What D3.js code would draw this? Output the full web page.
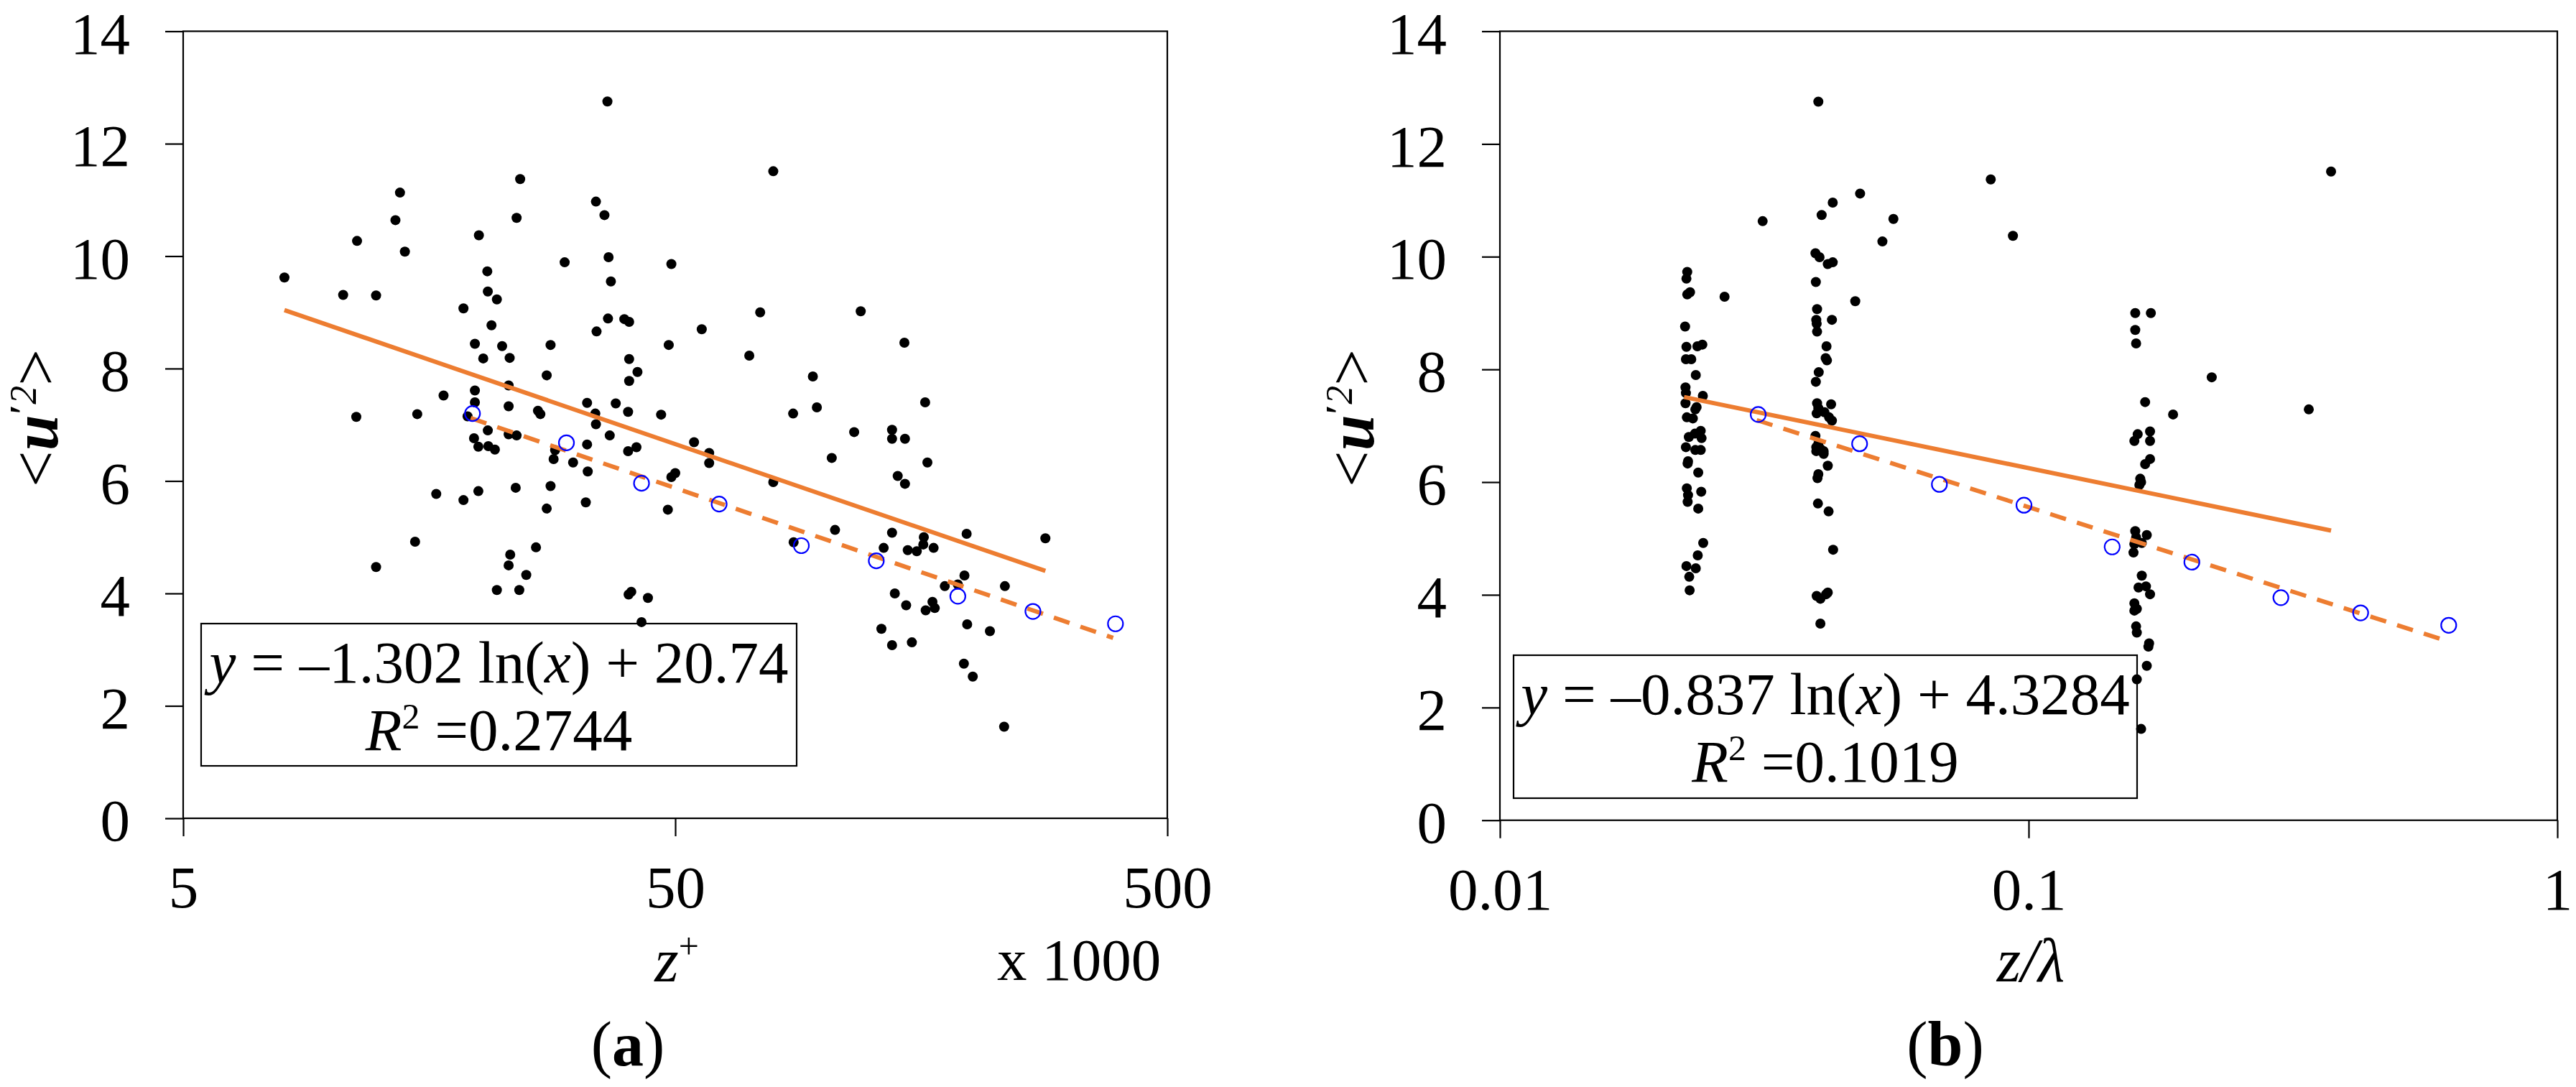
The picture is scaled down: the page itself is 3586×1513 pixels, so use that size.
<!DOCTYPE html>
<html>
<head>
<meta charset="utf-8">
<script src="https://cdn.jsdelivr.net/npm/d3@7"></script>
<style>
  body { margin: 0; background: #fff; }
  text { white-space: pre; }
</style>
</head>
<body>
<svg id="chart"></svg>
<script>
const width = 3586;
const height = 1513;
const serif = "'Liberation Serif', 'Times New Roman', serif";
const orange = "#ED7D31";
const blue = "#0000FF";

// ---- data -------------------------------------------------------------
const yTicks = [0, 2, 4, 6, 8, 10, 12, 14];
const xTicksA = [5, 50, 500];
const xLabelsA = ["5", "50", "500"];
const xTicksB = [0.01, 0.1, 1];
const xLabelsB = ["0.01", "0.1", "1"];

// (a) <u'^2> against z+ (x 1000)
const scatterA = [
  [8.03,9.62],[10.57,9.31],[11.28,10.27],[12.33,9.30],[11.24,7.14],[12.33,4.47],[13.5,10.64],[13.79,11.13],
  [14.11,10.08],[14.95,7.19],[14.8,4.92],[16.34,5.77],[16.91,7.52],[18.56,9.07],[18.56,5.66],[18.92,7.15],
  [19.58,8.44],[19.58,7.61],[19.58,7.40],[19.95,10.37],[19.5,6.76],[19.9,6.61],[19.9,5.82],[20.36,8.18],
  [20.75,9.73],[20.8,9.37],[21.16,8.77],[20.8,6.90],[20.85,6.62],[21.5,6.56],[21.7,9.23],[21.7,4.06],
  [22.24,8.40],[22.93,7.70],[22.93,7.33],[22.93,6.83],[23.04,8.19],[22.93,4.50],[23.1,4.69],[23.8,10.68],
  [24.2,11.37],[23.8,6.81],[23.7,5.88],[24.1,4.06],[24.9,4.33],[26.06,4.82],[26.3,7.25],[26.6,7.19],
  [27.4,7.88],[27.9,8.42],[27.9,5.91],[27.4,5.51],[28.3,6.39],[28.5,6.55],[29.8,9.89],[31.0,6.33],
  [33.1,7.39],[33.1,6.65],[33.2,6.17],[32.9,5.62],[34.5,10.97],[35.9,10.73],[34.6,8.66],[34.4,7.20],
  [34.5,7.01],[36.4,12.75],[36.6,9.98],[37.0,9.55],[36.8,6.81],[36.5,8.89],[37.85,7.38],[39.4,8.88],
  [40.1,7.23],[40.3,8.83],[40.3,8.17],[40.3,7.78],[40.1,6.53],[40.2,3.98],[40.7,4.03],[41.7,6.60],
  [41.9,7.94],[42.7,3.49],[44.0,3.92],[46.8,7.18],[48.5,8.42],[48.3,5.49],[49.1,9.86],[49.1,6.07],
  [50,6.14],[54.6,6.69],[56.6,8.70],[58.6,6.50],[58.6,6.32],[70.7,8.23],[74.4,9.00],[79.1,11.51],
  [79.1,5.98],[86.8,7.20],[87.0,4.91],[95.2,7.86],[97.0,7.31],[104,6.41],[105.6,5.13],[115.5,6.87],
  [119.1,9.02],[131.2,3.37],[132.6,4.81],[137.9,6.91],[137.9,6.75],[137.9,5.08],[137.9,3.08],[139.7,4.00],
  [141.6,6.09],[146.1,8.46],[146.5,6.75],[146.5,5.95],[147.3,3.79],[148.4,4.77],[151.3,3.13],[154.8,4.75],
  [159.6,4.87],[160,5.0],[161,7.40],[161.4,3.70],[162.7,6.33],[166.6,3.85],[167.5,4.81],[168.4,3.74],
  [176.5,4.13],[187.6,4.16],[193.5,4.32],[195.5,5.06],[193,2.75],[196,3.45],[201.2,2.52],[218,3.33],
  [233.8,4.13],[233,1.63],[282.6,4.98]
];

// (b) <u'^2> against z/lambda
const scatterB = [
  [0.02261,9.73],[0.02253,9.61],[0.02261,9.33],[0.02289,9.37],[0.02240,8.76],[0.02253,8.40],[0.02248,8.18],
  [0.02301,8.18],[0.02363,8.41],[0.02415,8.44],[0.02347,7.90],[0.02244,7.68],[0.02248,7.58],[0.02420,7.53],
  [0.02244,7.40],[0.02355,7.33],[0.02342,7.29],[0.02257,7.15],[0.02317,7.13],[0.02398,6.91],[0.02277,6.80],
  [0.02407,6.78],[0.02338,6.86],[0.02248,6.62],[0.02342,6.57],[0.02398,6.57],[0.02269,6.37],[0.02265,6.33],
  [0.02372,6.17],[0.02257,5.89],[0.02269,5.77],[0.02265,5.65],[0.02403,5.83],[0.02372,5.53],[0.02424,4.92],
  [0.02367,4.70],[0.02253,4.51],[0.02347,4.47],[0.02281,4.32],[0.02285,4.08],
  [0.0266,9.29],[0.0314,10.63],
  [0.04002,12.75],[0.04060,10.74],[0.04261,10.96],[0.03952,10.06],[0.04023,9.99],[0.04170,9.87],[0.04261,9.90],
  [0.03959,9.55],[0.03980,9.07],[0.03966,8.88],[0.03973,8.81],[0.03980,8.67],[0.04246,8.88],[0.04147,8.41],
  [0.04132,8.20],[0.04155,8.16],[0.04009,7.95],[0.03959,7.78],[0.03980,7.40],[0.04231,7.38],[0.04002,7.31],
  [0.03973,7.22],[0.04110,7.24],[0.04193,7.15],[0.04246,7.09],[0.03952,6.82],[0.03966,6.62],[0.04038,6.59],
  [0.04096,6.55],[0.04002,6.68],[0.03966,6.55],[0.04096,6.50],[0.04170,6.29],[0.04002,6.14],[0.03987,6.07],
  [0.03995,5.62],[0.04185,5.48],[0.04268,4.80],[0.03973,3.98],[0.04038,3.93],[0.04170,4.04],[0.04140,4.01],
  [0.04038,3.49],
  [0.0470,9.21],[0.0480,11.12],[0.0529,10.27],[0.0555,10.67],[0.0848,11.37],[0.0934,10.37],
  [0.1591,9.00],[0.1703,9.00],[0.1591,8.70],[0.1597,8.46],[0.1661,7.42],[0.1697,6.90],[0.1585,6.73],
  [0.1608,6.85],[0.1697,6.73],[0.1661,6.32],[0.1697,6.41],[0.1626,6.06],[0.1620,5.95],[0.1632,6.00],
  [0.1591,5.13],[0.1597,5.02],[0.1673,5.06],[0.1585,4.90],[0.1579,4.75],[0.1637,4.92],[0.1637,4.34],
  [0.1614,4.13],[0.1667,4.15],[0.1697,4.01],[0.1585,3.85],[0.1585,3.72],[0.1602,3.75],[0.1597,3.44],
  [0.1602,3.33],[0.1690,3.14],[0.1685,3.08],[0.1673,2.74],[0.1602,2.50],[0.1632,1.62],
  [0.1876,7.20],[0.222,7.86],[0.3388,7.29],[0.3733,11.51]
];

// binned means (open blue circles), same y in both panels
const binY = [7.20, 6.68, 5.96, 5.59, 4.85, 4.58, 3.95, 3.68, 3.46];
const binXA = [19.36, 30.05, 42.7, 61.4, 90.2, 128.1, 187.6, 266.6, 392.3];
const binXB = [0.0308, 0.0479, 0.0678, 0.098, 0.1439, 0.2036, 0.300, 0.4246, 0.6231];

// fitted log trend lines: end points [x, y]
const fitA = [[8.03, 9.04], [282.6, 4.40]];
const fitBinA = [[19.2, 7.12], [388, 3.21]];
const fitB = [[0.0223, 7.51], [0.3733, 5.14]];
const fitBinB = [[0.0306, 7.10], [0.6231, 3.17]];

const eqA = ["–1.302", "20.74", "0.2744"];
const eqB = ["–0.837", "4.3284", "0.1019"];

// ---- drawing ----------------------------------------------------------
const svg = d3.select("#chart")
    .attr("width", width)
    .attr("height", height)
    .attr("viewBox", [0, 0, width, height]);

svg.append("rect").attr("width", width).attr("height", height).attr("fill", "#fff");

const addRuns = (text, runs) => runs.forEach(r => {
    const t = text.append("tspan").text(r.t);
    if (r.style) t.attr("font-style", r.style);
    if (r.weight) t.attr("font-weight", r.weight);
    if (r.size) t.attr("font-size", r.size);
    if (r.dy) t.attr("dy", r.dy);
});

function drawPanel(p) {
    const x = d3.scaleLog().domain(p.xDomain).range([p.left, p.right]);
    const y = d3.scaleLinear().domain([0, 14]).range([p.bottom, p.top]);
    const g = svg.append("g");

    g.append("g")
        .attr("transform", `translate(${p.left},0)`)
        .call(d3.axisLeft(y).tickValues(yTicks).tickSize(25).tickSizeOuter(0).tickPadding(49))
        .call(a => a.select(".domain").remove())
        .call(a => a.selectAll(".tick text").attr("dy", "0.37em"))
        .attr("font-family", serif).attr("font-size", 83);

    g.append("g")
        .attr("transform", `translate(0,${p.bottom})`)
        .call(d3.axisBottom(x).tickValues(p.xTicks).tickSize(25).tickSizeOuter(0).tickPadding(40)
            .tickFormat((d, i) => p.xLabels[i]))
        .call(a => a.select(".domain").remove())
        .attr("font-family", serif).attr("font-size", 83);

    g.selectAll(".tick line").attr("stroke", "#000").attr("stroke-width", 2.2);
    g.selectAll(".tick text").attr("fill", "#000");

    g.append("rect")
        .attr("x", p.left).attr("y", p.top)
        .attr("width", p.right - p.left).attr("height", p.bottom - p.top)
        .attr("fill", "none").attr("stroke", "#000").attr("stroke-width", 2.2);

    // equation box
    g.append("rect")
        .attr("x", p.box[0]).attr("y", p.box[1])
        .attr("width", p.box[2]).attr("height", p.box[3])
        .attr("fill", "none").attr("stroke", "#000").attr("stroke-width", 2.2);

    const cx = p.box[0] + p.box[2] / 2;
    const l1 = g.append("text")
        .attr("x", cx).attr("y", p.box[1] + 82)
        .attr("text-anchor", "middle").attr("font-family", serif).attr("font-size", 83);
    addRuns(l1, [
        {t: "y", style: "italic"},
        {t: ` = ${p.eq[0]} ln(`},
        {t: "x", style: "italic"},
        {t: `) + ${p.eq[1]}`}
    ]);
    const l2 = g.append("text")
        .attr("x", cx).attr("y", p.box[1] + 176)
        .attr("text-anchor", "middle").attr("font-family", serif).attr("font-size", 83);
    addRuns(l2, [
        {t: "R", style: "italic"},
        {t: "2", size: 50, dy: -30},
        {t: ` =${p.eq[2]}`, dy: 30}
    ]);

    // scatter
    g.append("g")
        .selectAll("circle")
        .data(p.points)
        .join("circle")
        .attr("cx", d => x(d[0]))
        .attr("cy", d => y(d[1]))
        .attr("r", 7)
        .attr("fill", "#000");

    const line = d3.line().x(d => x(d[0])).y(d => y(d[1]));

    g.append("path")
        .attr("d", line(p.fit))
        .attr("fill", "none").attr("stroke", orange).attr("stroke-width", 6);

    g.append("path")
        .attr("d", line(p.fitBin))
        .attr("fill", "none").attr("stroke", orange).attr("stroke-width", 6)
        .attr("stroke-dasharray", "23,16");

    g.append("g")
        .selectAll("circle")
        .data(p.binX.map((v, i) => [v, binY[i]]))
        .join("circle")
        .attr("cx", d => x(d[0]))
        .attr("cy", d => y(d[1]))
        .attr("r", 10.5)
        .attr("fill", "none")
        .attr("stroke", blue)
        .attr("stroke-width", 2.2);

    // y axis title <u'^2>
    const yl = g.append("text")
        .attr("transform", `translate(${p.yLabelX},582) rotate(-90)`)
        .attr("text-anchor", "middle").attr("font-family", serif).attr("font-size", 90);
    addRuns(yl, [
        {t: "<"},
        {t: "u", style: "italic", weight: "bold"},
        {t: "′", weight: "bold", size: 52, dy: -30},
        {t: "2", style: "italic", size: 52},
        {t: ">", dy: 30}
    ]);

    // x axis title
    const xl = g.append("text")
        .attr("x", p.xLabelX).attr("y", 1366)
        .attr("text-anchor", "middle").attr("font-family", serif).attr("font-size", 86)
        .attr("font-style", "italic");
    addRuns(xl, p.xTitle);

    // panel tag
    const tag = g.append("text")
        .attr("x", p.tagX).attr("y", 1483)
        .attr("text-anchor", "middle").attr("font-family", serif).attr("font-size", 88);
    addRuns(tag, [{t: "("}, {t: p.tag, weight: "bold"}, {t: ")"}]);

    return g;
}

const gA = drawPanel({
    xDomain: [5, 500], left: 255, right: 1625, top: 43.5, bottom: 1139,
    xTicks: xTicksA, xLabels: xLabelsA,
    points: scatterA, binX: binXA, fit: fitA, fitBin: fitBinA,
    box: [280, 868, 829, 198], eq: eqA,
    yLabelX: 80, xLabelX: 942, tagX: 874, tag: "a",
    xTitle: [{t: "z"}, {t: "+", size: 50, dy: -32, style: "normal"}]
});

gA.append("text")
    .attr("x", 1388).attr("y", 1364)
    .attr("font-family", serif).attr("font-size", 83)
    .text("x 1000");

drawPanel({
    xDomain: [0.01, 1], left: 2088, right: 3560, top: 43.5, bottom: 1141.7,
    xTicks: xTicksB, xLabels: xLabelsB,
    points: scatterB, binX: binXB, fit: fitB, fitBin: fitBinB,
    box: [2107, 912, 868, 199], eq: eqB,
    yLabelX: 1912, xLabelX: 2827, tagX: 2708, tag: "b",
    xTitle: [{t: "z/λ"}]
});
</script>
</body>
</html>
